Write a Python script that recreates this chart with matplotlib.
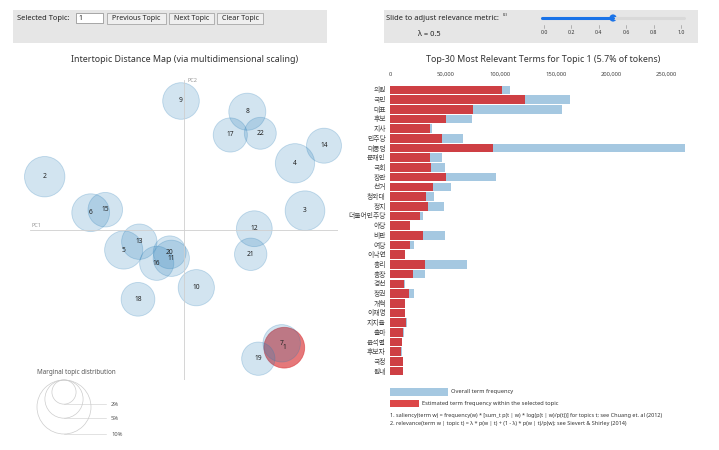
import matplotlib.pyplot as plt
from matplotlib.patches import Circle, Rectangle
import numpy as np

plt.rcParams['font.family'] = ['Noto Sans', 'Noto Sans CJK KR', 'DejaVu Sans']

W, H = 719, 450

# topic bubbles: id, PC1, PC2, share of tokens (%)
topic_ids = list(range(1, 23))
pc1 = [0.2006, -0.2786, 0.242, 0.222, -0.1206, -0.1866, 0.1954, 0.1266, -0.006, 0.0246, -0.0254,
       0.1406, -0.0894, 0.28, -0.1574, -0.0546, 0.0926, -0.092, 0.1486, -0.0286, 0.1334, 0.1526]
pc2 = [-0.2354, 0.1066, 0.0386, 0.1334, -0.04, 0.0346, -0.2266, 0.2366, 0.258, -0.1154, -0.0566,
       0.0026, -0.0234, 0.1686, 0.0406, -0.0666, 0.19, -0.1386, -0.2574, -0.0446, -0.0486, 0.1934]
topic_pct = [5.7, 5.6, 5.4, 5.3, 5.0, 4.9, 4.8, 4.7, 4.6, 4.5, 4.5,
             4.4, 4.3, 4.2, 4.1, 4.0, 4.0, 3.9, 3.8, 3.7, 3.6, 3.5]
selected_topic = 1

# top-30 terms for topic 1
terms = ['의원', '국민', '대표', '후보', '지사', '민주당', '대통령', '문재인', '국회', '장관',
         '선거', '청와대', '정치', '더불어민주당', '야당', '비판', '여당', '이낙연', '총리', '총장',
         '경선', '정권', '개혁', '이재명', '지지율', '출마', '윤석열', '후보자', '국정', '원내']
total_freq = [108700, 163000, 155500, 74300, 38400, 65900, 267000, 47400, 50100, 95700,
              55600, 39600, 48900, 30200, 18500, 50100, 21700, 13800, 69700, 31700,
              13300, 21700, 13900, 13500, 15400, 12300, 11100, 10500, 11700, 11700]
topic_freq = [101800, 122600, 74900, 50400, 36200, 46800, 93600, 36500, 36800, 50800,
              38700, 32300, 34700, 27200, 18100, 30200, 17800, 13600, 31400, 20800,
              13000, 16900, 13600, 13300, 14200, 12100, 10900, 10300, 11500, 11500]
x_ticks = [0, 50000, 100000, 150000, 200000, 250000]

legend_pct = [2, 5, 10]
slider_ticks = [0.0, 0.2, 0.4, 0.6, 0.8, 1.0]
lam = 0.5

BLUE = '#1f77b4'
RED = '#d62728'
R10 = 27.0      # px radius of a 10% bubble
PX_PER_UNIT = 500.0


def radius_px(p):
    return R10 * np.sqrt(p / 10.0)


def add_ax(x0, y0, w, h):
    return fig.add_axes([x0 / W, 1 - (y0 + h) / H, w / W, h / H])


fig = plt.figure(figsize=(W / 100, H / 100), dpi=100)

# overlay in pixel coordinates for the page furniture
bg = fig.add_axes([0, 0, 1, 1])
bg.set_xlim(0, W)
bg.set_ylim(H, 0)
bg.axis('off')

bg.add_patch(Rectangle((13, 10), 314, 33, color='#e6e6e6', lw=0))
bg.add_patch(Rectangle((384, 10), 314, 33, color='#e6e6e6', lw=0))

bg.text(17, 18, 'Selected Topic:', fontsize=5.4, va='center', color='#222')
bg.add_patch(Rectangle((76, 13), 27, 10, facecolor='white', edgecolor='#888', lw=0.5))
bg.text(78.5, 18, str(selected_topic), fontsize=5, va='center', color='#222')
for x0, w, lab in [(107, 59, 'Previous Topic'), (169, 45, 'Next Topic'), (217, 46, 'Clear Topic')]:
    bg.add_patch(Rectangle((x0, 13), w, 11, facecolor='#efefef', edgecolor='#999', lw=0.5))
    bg.text(x0 + w / 2, 18.5, lab, fontsize=5.1, ha='center', va='center', color='#222')

bg.text(386, 19, 'Slide to adjust relevance metric:', fontsize=5.4, va='center', color='#222')
bg.text(503, 15.5, '(2)', fontsize=3, va='center', color='#222')
bg.text(429, 35, 'λ = 0.5', fontsize=5.4, ha='center', va='center', color='#222')

s0, s1 = 542, 684
bg.plot([s0, s1], [18, 18], color='#d9d9d9', lw=2.2, solid_capstyle='round')
knob = s0 + lam * (s1 - s0)
bg.plot([s0, knob], [18, 18], color='#1a73e8', lw=2.2, solid_capstyle='round')
bg.add_patch(Circle((knob, 18), 3.6, color='#1a73e8', lw=0))
t0, t1 = 544, 681
for v in slider_ticks:
    tx = t0 + v * (t1 - t0)
    bg.plot([tx, tx], [25, 28], color='#888', lw=0.4)
    bg.text(tx, 33, f'{v:.1f}', fontsize=3.8, ha='center', va='center', color='#333')

bg.text(185, 60, 'Intertopic Distance Map (via multidimensional scaling)',
        fontsize=6.4, ha='center', va='center', color='#333')
bg.text(543, 60, f'Top-30 Most Relevant Terms for Topic {selected_topic} ({topic_pct[0]}% of tokens)',
        fontsize=6.4, ha='center', va='center', color='#333')

# marginal topic distribution legend
bg.text(37, 373, 'Marginal topic distribution', fontsize=4.5, va='center', color='#555')
top = 380
for p in legend_pct:
    r = radius_px(p)
    bg.add_patch(Circle((64, top + r), r, facecolor='none', edgecolor='#ccc', lw=0.5))
    bg.plot([64, 106], [top + 2 * r, top + 2 * r], color='#ccc', lw=0.4)
    bg.text(111, top + 2 * r, f'{p}%', fontsize=4.2, va='center', color='#555')

# bar legend + footnotes
bg.add_patch(Rectangle((390, 388), 58, 8, color=BLUE, alpha=0.4, lw=0))
bg.text(451, 392, 'Overall term frequency', fontsize=4.1, va='center', color='#333')
bg.add_patch(Rectangle((390, 399.5), 29, 7.5, color=RED, alpha=0.85, lw=0))
bg.text(422, 403, 'Estimated term frequency within the selected topic', fontsize=4.1, va='center', color='#333')
bg.text(390, 415.5, '1. saliency(term w) = frequency(w) * [sum_t p(t | w) * log(p(t | w)/p(t))] for topics t; '
        'see Chuang et. al (2012)', fontsize=3.95, va='center', color='#333')
bg.text(390, 423, '2. relevance(term w | topic t) = λ * p(w | t) + (1 - λ) * p(w | t)/p(w); '
        'see Sievert & Shirley (2014)', fontsize=3.95, va='center', color='#333')

# intertopic distance map
ax = add_ax(30, 80, 308, 300)
ax.set_xlim(-154 / PX_PER_UNIT, 154 / PX_PER_UNIT)
ax.set_ylim(-150 / PX_PER_UNIT, 150 / PX_PER_UNIT)
ax.axis('off')
ax.axhline(0, color='#cfcfcf', lw=0.6)
ax.axvline(0, color='#cfcfcf', lw=0.6)
ax.text(-0.306, 0.004, 'PC1', fontsize=4, color='#999', va='bottom')
ax.text(0.006, 0.298, 'PC2', fontsize=4, color='#999', va='center')

for i, t in enumerate(topic_ids):
    r = radius_px(topic_pct[i]) / PX_PER_UNIT
    if t == selected_topic:
        fc, ec = (0.84, 0.15, 0.16, 0.62), (0.84, 0.15, 0.16, 0.55)
    else:
        fc, ec = (0.12, 0.47, 0.71, 0.2), (0.12, 0.47, 0.71, 0.25)
    ax.add_patch(Circle((pc1[i], pc2[i]), r, facecolor=fc, edgecolor=ec, lw=0.6, clip_on=False))
for i, t in enumerate(topic_ids):
    ax.text(pc1[i], pc2[i], str(t), fontsize=4.8, fontweight='bold', ha='center', va='center', color='#222')

# bar chart
bx = add_ax(390, 85, 295, 291)
y = np.arange(len(terms))
bx.barh(y, total_freq, height=0.88, color=BLUE, alpha=0.4, lw=0)
bx.barh(y, topic_freq, height=0.88, color=RED, alpha=0.85, lw=0)
bx.set_xlim(0, max(total_freq))
bx.set_ylim(len(terms) - 0.5, -0.5)
bx.set_yticks(y)
bx.set_yticklabels(terms)
bx.xaxis.tick_top()
bx.set_xticks(x_ticks)
bx.set_xticklabels([f'{v:,}' for v in x_ticks])
bx.tick_params(axis='x', length=0, pad=6, labelsize=4.2, labelcolor='#444')
bx.tick_params(axis='y', length=0, pad=3, labelsize=4.9, labelcolor='#444')
for s in bx.spines.values():
    s.set_visible(False)
bx.patch.set_alpha(0)

fig.savefig('out.png', dpi=100)
